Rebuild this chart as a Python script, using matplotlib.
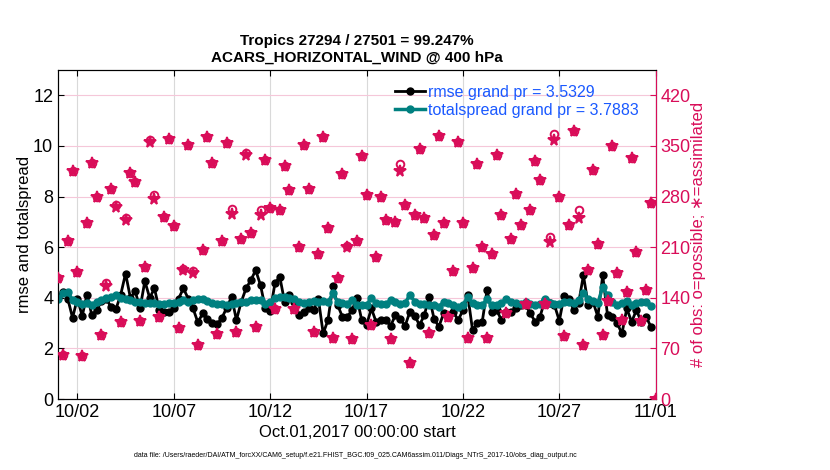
import numpy as np
import pandas as pd
import matplotlib
matplotlib.use('Agg')
import matplotlib.pyplot as plt
import matplotlib.dates as mdates

plt.rcParams['font.family'] = ['Liberation Sans', 'DejaVu Sans']

# 6-hourly bins, Oct 1 2017 00Z .. Nov 1 00Z
times = pd.date_range('2017-10-01', periods=125, freq='6h')

rmse = [4.04, 4.24, 3.97, 3.21, 3.97, 3.28, 4.13, 3.32, 3.51, 3.87, 3.95, 3.64, 3.55, 4.13, 4.96, 4.00,
        4.26, 3.58, 4.66, 4.00, 4.37, 3.51, 3.45, 3.42, 3.58, 3.97, 4.37, 3.97, 3.58, 3.03, 3.38, 3.18,
        2.99, 2.95, 3.21, 3.61, 4.04, 3.12, 3.84, 4.37, 4.70, 5.09, 4.50, 3.58, 3.47, 4.57, 4.83, 3.84,
        4.10, 3.84, 3.32, 3.45, 3.58, 3.51, 3.97, 2.59, 3.12, 4.47, 3.71, 3.25, 3.25, 3.51, 4.00, 3.12,
        2.92, 3.58, 3.04, 3.12, 3.12, 2.89, 3.32, 3.18, 2.89, 3.45, 3.29, 2.92, 3.32, 4.04, 3.18, 2.86,
        3.38, 3.32, 3.45, 3.12, 3.50, 4.10, 2.72, 2.99, 3.05, 4.30, 3.45, 3.51, 3.12, 3.45, 3.45, 3.58,
        3.71, 3.71, 3.38, 3.05, 3.25, 3.91, 3.78, 3.71, 3.09, 4.08, 3.97, 3.51, 3.78, 4.89, 3.71, 3.84,
        3.25, 4.89, 3.32, 3.25, 2.99, 2.59, 3.58, 3.05, 3.51, 3.05, 3.25, 2.86, np.nan]

spread = [3.97, 4.17, 4.24, 3.91, 3.84, 3.74, 3.78, 3.71, 3.84, 3.91, 4.00, 4.04, 4.10, 4.00, 3.97, 3.91,
          3.84, 3.84, 3.78, 3.80, 3.78, 3.74, 3.74, 3.78, 3.78, 3.84, 3.91, 3.84, 3.91, 3.97, 3.97, 3.87,
          3.78, 3.74, 3.74, 3.71, 3.74, 3.78, 3.84, 3.84, 3.91, 3.91, 3.91, 3.74, 3.84, 4.00, 4.04, 4.04,
          4.00, 3.97, 3.84, 3.78, 3.84, 3.87, 3.84, 3.87, 3.82, 4.17, 3.84, 3.78, 3.74, 3.91, 3.71, 3.71,
          3.71, 4.00, 3.78, 3.74, 3.74, 3.91, 3.84, 3.74, 3.78, 4.13, 3.84, 3.74, 3.74, 3.71, 3.71, 3.64,
          3.84, 3.78, 3.71, 3.64, 3.71, 4.04, 3.78, 3.71, 3.71, 3.95, 3.71, 3.71, 3.78, 3.95, 3.82, 3.78,
          3.74, 3.84, 3.74, 3.71, 3.74, 3.97, 3.78, 3.74, 3.74, 3.84, 3.84, 3.78, 3.91, 4.17, 3.97, 3.87,
          3.78, 4.43, 4.10, 3.84, 3.71, 3.78, 3.87, 3.71, 3.78, 3.84, 3.84, 3.68, np.nan]

nobs_used = [167, 61, 219, 315, 175, 60, 243, 327, 279, 88, 156, 291, 266, 106, 247, 312,
             300, 108, 182, 356, 276, 114, 252, 360, 239, 98, 178, 351, 174, 75, 206, 362,
             326, 90, 218, 354, 256, 93, 221, 337, 229, 100, 254, 330, 264, 125, 262, 322,
             289, 125, 210, 352, 291, 93, 201, 362, 236, 84, 168, 311, 210, 83, 218, 336,
             282, 103, 197, 279, 247, 83, 245, 315, 268, 50, 254, 346, 251, 92, 227, 364,
             243, 114, 177, 355, 243, 85, 181, 325, 210, 85, 201, 338, 255, 119, 221, 284,
             241, 131, 261, 329, 303, 131, 217, 358, 279, 87, 240, 370, 250, 75, 178, 317,
             215, 89, 136, 350, 174, 109, 148, 334, 204, 108, 151, 271, 0]

nobs_poss = [167, 61, 219, 315, 175, 60, 243, 327, 279, 88, 161, 291, 268, 106, 251, 312,
             300, 108, 183, 358, 282, 114, 252, 360, 239, 98, 180, 351, 177, 75, 206, 362,
             326, 90, 218, 354, 263, 93, 221, 340, 229, 100, 262, 330, 264, 125, 262, 322,
             289, 125, 210, 352, 291, 93, 201, 362, 236, 84, 168, 311, 212, 83, 218, 336,
             282, 103, 197, 279, 247, 83, 245, 325, 268, 50, 254, 346, 251, 92, 227, 364,
             243, 114, 177, 355, 243, 85, 181, 325, 210, 85, 201, 338, 255, 119, 221, 284,
             241, 131, 261, 329, 303, 131, 224, 366, 279, 87, 240, 370, 261, 75, 178, 317,
             215, 89, 136, 350, 174, 109, 148, 334, 204, 108, 151, 271, 0]

xticks = pd.date_range('2017-10-02', '2017-11-01', freq='5D')

rmse_pr = 3.5329
spread_pr = 3.7883
obs_col = (0.85, 0.05, 0.35)
teal = (0.0, 0.5, 0.5)

fig = plt.figure(figsize=(8.3, 4.7), dpi=100)
ax = fig.add_axes([0.070, 0.151, 0.720, 0.700])
ax2 = ax.twinx()

# obs counts on the right axis (drawn on top of the lines)
ax2.plot(times, nobs_poss, 'o', color=obs_col, mfc='none', ms=5.5, mew=1.4, zorder=3)
ax2.plot(times, nobs_used, '*', color=obs_col, ms=8.5, mew=1.4, zorder=3)
ax2.set_ylim(0, 455)
ax2.set_yticks(np.arange(0, 421, 70))
ax2.tick_params(axis='y', colors=obs_col, direction='in', length=4, labelsize=13)
ax2.spines['right'].set_color(obs_col)
ax2.set_ylabel('# of obs: o=possible; \u2217=assimilated', color=obs_col, fontsize=12, labelpad=0)

# rmse and spread on the left axis
l1, = ax.plot(times, rmse, '-o', color='black', lw=2, ms=5, label='rmse grand pr = %.4f' % rmse_pr)
l2, = ax.plot(times, spread, '-o', color=teal, lw=2.5, ms=5, label='totalspread grand pr = %.4f' % spread_pr)
ax.set_ylim(0, 13)
ax.set_yticks(np.arange(0, 13, 2))
ax.set_xlim(pd.Timestamp('2017-10-01'), pd.Timestamp('2017-11-01'))
ax.set_xticks(xticks)
ax.xaxis.set_major_formatter(mdates.DateFormatter('%m/%d'))
ax.xaxis.grid(True, color=(0.85, 0.85, 0.85), lw=0.8)
ax.yaxis.grid(True, color=(0.96, 0.78, 0.85), lw=0.8)
ax.set_axisbelow(True)
ax.tick_params(axis='both', direction='in', length=4, labelsize=13, top=True)
ax.set_ylabel('rmse and totalspread', fontsize=12, labelpad=1)
ax.set_xlabel('Oct.01,2017 00:00:00 start', fontsize=12, labelpad=3)
ax.set_title('Tropics 27294 / 27501 = 99.247%\nACARS_HORIZONTAL_WIND @ 400 hPa',
             fontsize=11, fontweight='bold', pad=6)

leg = ax.legend(handles=[l1, l2], loc='upper left', bbox_to_anchor=(0.545, 0.99),
                frameon=False, fontsize=11.5, handlelength=1.9, handletextpad=0.15,
                labelspacing=0.2, borderaxespad=0.3)
for t in leg.get_texts():
    t.set_color((0.1, 0.35, 1.0))

fig.text(0.428, 0.027, 'data file: /Users/raeder/DAI/ATM_forcXX/CAM6_setup/f.e21.FHIST_BGC.f09_025.'
         'CAM6assim.011/Diags_NTrS_2017-10/obs_diag_output.nc', fontsize=5, ha='center')

fig.savefig('out.png', dpi=100)
